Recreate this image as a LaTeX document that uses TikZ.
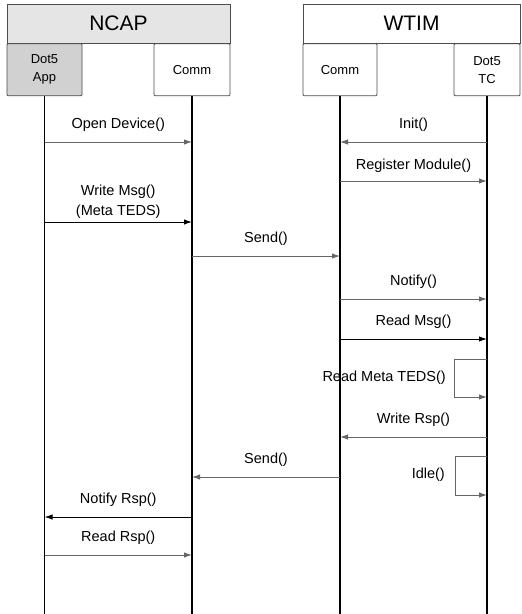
\documentclass[tikz,border=0pt]{standalone}
\usepackage{fontspec}
\setmainfont{Liberation Sans}
\usetikzlibrary{arrows.meta}

\tikzset{
  headbox/.style={draw=black!70, line width=0.8pt, inner sep=0pt, align=center, font=\fontsize{21}{24}\selectfont},
  partbox/.style={draw=black!70, line width=0.8pt, inner sep=0pt, align=center, rounded corners=1pt, font=\fontsize{13}{18}\selectfont},
  lifeline/.style={black, line width=1.3pt},
  msg/.style={draw=black!60, line width=1pt, -{Latex[length=8pt,width=5.5pt]}},
  msgb/.style={msg, draw=black},
  lbl/.style={font=\fontsize{14.5}{20}\selectfont, inner sep=0pt, align=center},
}

\begin{document}
\begin{tikzpicture}[x=1pt, y=-1pt]
    \useasboundingbox (0,0) rectangle (522,614);
    % headers and parts
    \node[headbox, fill=black!10, minimum width=223pt, minimum height=39pt] (ncap) at (118.5,23.5) {NCAP};
    \node[headbox, minimum width=217pt, minimum height=39pt] (wtim) at (411.5,23.5) {WTIM};
    \node[partbox, fill=black!18, anchor=north west, minimum width=75pt, minimum height=52pt] (app) at (ncap.south west) {Dot5\\App};
    \node[partbox, anchor=north east, minimum width=76pt, minimum height=52pt] (ncomm) at (ncap.south east) {Comm};
    \node[partbox, anchor=north west, minimum width=74pt, minimum height=52pt] (wcomm) at (wtim.south west) {Comm};
    \node[partbox, anchor=north east, minimum width=66pt, minimum height=52pt] (tc) at (wtim.south east) {Dot5\\TC};
    % lifelines
    \foreach \n in {app,ncomm,wcomm,tc}
        \draw[lifeline] (\n.south) -- (\n.south |- 0,614);
    % messages
    \draw[msg] (app |- 0,142) -- node[lbl, above=10pt] (l1) {Open Device()} (ncomm |- 0,142);
    \draw[msgb] (app |- 0,222) -- node[lbl, above=3pt] (l2) {Write Msg()\\(Meta TEDS)} (ncomm |- 0,222);
    \draw[msg] (ncomm |- 0,256) -- node[lbl, above=10pt] (l3) {Send()} (wcomm |- 0,256);
    \draw[msg] (tc |- 0,142) -- node[lbl, above=10pt] (l4) {Init()} (wcomm |- 0,142);
    \draw[msg] (wcomm |- 0,181) -- node[lbl, above=8pt] (l5) {Register Module()} (tc |- 0,181);
    \draw[msg] (wcomm |- 0,299) -- node[lbl, above=10pt] (l6) {Notify()} (tc |- 0,299);
    \draw[msgb] (wcomm |- 0,339) -- node[lbl, above=10pt] (l7) {Read Msg()} (tc |- 0,339);
    % self call
    \node[lbl, anchor=east] (l8) at (446,378) {Read Meta TEDS()};
    \draw[msg] (tc |- 0,359) -- (454,359) -- (454,397) -- (tc |- 0,397);
    \draw[msg] (tc |- 0,437) -- node[lbl, above=10pt] (l9) {Write Rsp()} (wcomm |- 0,437);
    \draw[msg] (wcomm |- 0,477) -- node[lbl, above=10pt] (l10) {Send()} (ncomm |- 0,477);
    % idle
    \node[lbl, anchor=east] (l11) at (445,475) {Idle()};
    \draw[msg] (tc |- 0,456) -- (455,456) -- (455,495) -- (tc |- 0,495);
    \draw[msgb] (ncomm |- 0,517) -- node[lbl, above=10pt] (l12) {Notify Rsp()} (app |- 0,517);
    \draw[msg] (app |- 0,555) -- node[lbl, above=10pt] (l13) {Read Rsp()} (ncomm |- 0,555);
\end{tikzpicture}
\end{document}
